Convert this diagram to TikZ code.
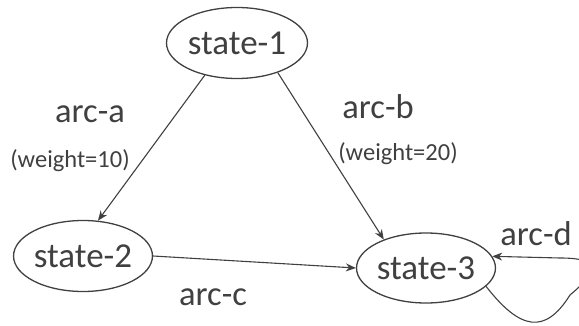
\documentclass[tikz,border=0pt]{standalone}
\usepackage{fontspec}
\setmainfont{Carlito}
\usetikzlibrary{arrows.meta,shapes.geometric}
\definecolor{ink}{HTML}{404040}
\begin{document}
\begin{tikzpicture}[x=1pt,y=1pt,
  state/.style={ellipse,draw=ink,line width=1.3pt,text=ink,inner sep=0pt,
    font=\fontsize{35}{38}\selectfont},
  lbl/.style={text=ink,inner sep=0pt,font=\fontsize{34.5}{38}\selectfont},
  wlbl/.style={text=ink,inner sep=0pt,font=\fontsize{24.5}{27}\selectfont},
  arc/.style={draw=ink,line width=1.1pt,-{Stealth[length=10pt,width=8pt]}}]
\useasboundingbox (0,0) rectangle (579,325);
\clip (0,0) rectangle (579,325);
% states
\node[state,minimum width=141pt,minimum height=71pt] (s1) at (237,282) {state-1};
\node[state,minimum width=120pt,minimum height=71pt] (s2) at (83,69) {state-2};
\node[state,minimum width=122pt,minimum height=70pt] (s3) at (426,57) {state-3};
% transitions
\draw[arc] (s1.225) -- (s2.67);
\draw[arc] (s1.324) -- (s3.146);
\draw[arc] (s2.east) -- (s3.west);
\draw[arc] (s3.-17) .. controls (520,-5) and (545,-10) .. (570,30)
  .. controls (600,55) and (600,67) .. (560,67) -- (s3.10);
% labels
\node[lbl] (la) at (90,211) {arc-a};
\node[wlbl] (wa) at (70,164) {(weight=10)};
\node[lbl] (lb) at (378,218) {arc-b};
\node[wlbl] (wb) at (398,171) {(weight=20)};
\node[lbl] (lc) at (213,28) {arc-c};
\node[lbl] (ld) at (536,91) {arc-d};
\end{tikzpicture}
\end{document}
